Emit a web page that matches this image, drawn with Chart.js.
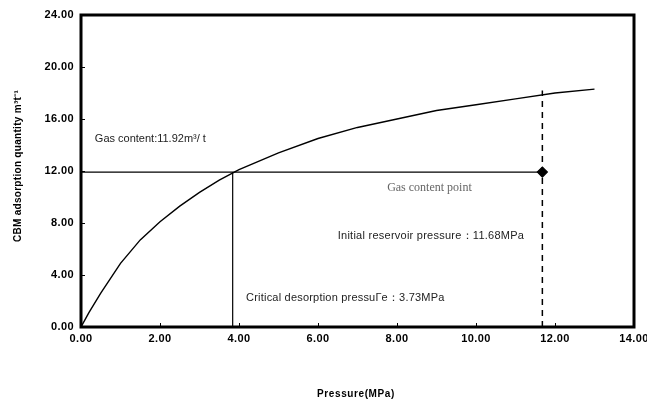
<!DOCTYPE html>
<html>
<head>
<meta charset="utf-8">
<script src="https://cdn.jsdelivr.net/npm/chart.js@4"></script>
<style>
html,body{margin:0;padding:0;background:#fff;}
#wrap{width:647px;height:406px;}
</style>
</head>
<body>
<div id="wrap"><canvas id="c" width="647" height="406"></canvas></div>
<script>
// Adsorption isotherm (Pressure MPa -> CBM adsorption m3/t)
const pressure = [0, 0.2, 0.5, 1.0, 1.25, 1.5, 2.0, 2.5, 3.0, 3.5, 4.0, 5.0, 6.0, 7.0, 8.0, 9.0, 10.0, 11.0, 12.0, 13.0];
const adsorption = [0, 1.1, 2.6, 4.9, 5.8, 6.7, 8.1, 9.3, 10.35, 11.3, 12.1, 13.4, 14.5, 15.35, 16.0, 16.65, 17.1, 17.55, 18.0, 18.3];

const gasContent = 11.92;
const reservoirPressure = 11.68;
const criticalLineX = 3.84;
const dashedTop = 18.2;

const xTicks = [0, 2, 4, 6, 8, 10, 12, 14];
const yTicks = [0, 4, 8, 12, 16, 20, 24];

const gasLineX = [0, reservoirPressure];
const gasLineY = [gasContent, gasContent];
const critLineX = [criticalLineX, criticalLineX];
const critLineY = [0, gasContent];
const resLineX = [reservoirPressure, reservoirPressure];
const resLineY = [0, dashedTop];

const labels = [
  {text: 'Gas content:11.92m\u00b3/ t', x: 0.35, y: 14.5, font: '11px "Liberation Sans", Arial, sans-serif', color: '#222', ls: '0px'},
  {text: 'Gas content point', x: 7.75, y: 10.7, font: '12px "Liberation Serif", "DejaVu Serif", serif', color: '#666', ls: '0px'},
  {text: 'Initial reservoir pressure\uff1a11.68MPa', x: 6.5, y: 7.0, font: '11px "Liberation Sans", Arial, sans-serif', color: '#222', ls: '0.25px'},
  {text: 'Critical desorption pressu\u0413e\uff1a3.73MPa', x: 4.18, y: 2.23, font: '11px "Liberation Sans", Arial, sans-serif', color: '#222', ls: '0.2px'}
];

const pts = (xs, ys) => xs.map((x, i) => ({x: x, y: ys[i]}));

const framePlugin = {
  id: 'frame',
  beforeDraw(chart) { chart.ctx.letterSpacing = '0.4px'; },
  beforeDatasetsDraw(chart) { chart.ctx.letterSpacing = '0px'; },
  afterDraw(chart) {
    const ctx = chart.ctx;
    const a = chart.chartArea;
    const xs = chart.scales.x, ys = chart.scales.y;
    ctx.save();
    ctx.strokeStyle = '#000';
    ctx.lineWidth = 1;
    xTicks.forEach(v => {
      const px = Math.round(xs.getPixelForValue(v)) + 0.5;
      ctx.beginPath(); ctx.moveTo(px, a.bottom); ctx.lineTo(px, a.bottom - 4); ctx.stroke();
    });
    yTicks.forEach(v => {
      const py = Math.round(ys.getPixelForValue(v)) + 0.5;
      ctx.beginPath(); ctx.moveTo(a.left, py); ctx.lineTo(a.left + 4, py); ctx.stroke();
    });
    ctx.lineWidth = 3;
    ctx.strokeRect(a.left, a.top, a.right - a.left, a.bottom - a.top);
    labels.forEach(l => {
      ctx.font = l.font;
      ctx.fillStyle = l.color;
      ctx.letterSpacing = l.ls;
      ctx.textAlign = 'left';
      ctx.textBaseline = 'middle';
      ctx.fillText(l.text, xs.getPixelForValue(l.x), ys.getPixelForValue(l.y));
    });
    ctx.fillStyle = '#000';
    ctx.font = 'bold 10px "Liberation Sans", Arial, sans-serif';
    ctx.textAlign = 'center';
    ctx.letterSpacing = '0.6px';
    ctx.fillText('Pressure(MPa)', 356, 394);
    ctx.letterSpacing = '0.3px';
    ctx.translate(18, 166);
    ctx.rotate(-Math.PI / 2);
    ctx.fillText('CBM adsorption quantity m\u00b3t\u207b\u00b9', 0, 0);
    ctx.restore();
  }
};

new Chart(document.getElementById('c'), {
  type: 'scatter',
  data: {
    datasets: [
      {data: pts(pressure, adsorption), showLine: true, borderColor: '#000', borderWidth: 1.4, pointRadius: 0, tension: 0},
      {data: pts(gasLineX, gasLineY), showLine: true, borderColor: '#000', borderWidth: 1.2, pointRadius: [0, 5], pointStyle: 'rectRot', pointBackgroundColor: '#000', pointBorderColor: '#000'},
      {data: pts(critLineX, critLineY), showLine: true, borderColor: '#000', borderWidth: 1.2, pointRadius: 0},
      {data: pts(resLineX, resLineY), showLine: true, borderColor: '#000', borderWidth: 1.5, borderDash: [6, 5], pointRadius: 0}
    ]
  },
  options: {
    responsive: false,
    animation: false,
    layout: {padding: {left: 0, top: 15, right: 13, bottom: 0}},
    plugins: {legend: {display: false}, tooltip: {enabled: false}},
    scales: {
      x: {
        type: 'linear', min: 0, max: 14,
        afterBuildTicks: s => { s.ticks = xTicks.map(v => ({value: v})); },
        afterFit: s => { s.height = 79; s.paddingLeft = 0; s.paddingRight = 0; },
        grid: {display: false, drawTicks: false},
        border: {display: false},
        ticks: {padding: 5, color: '#000', font: {family: '"Liberation Sans", Arial, sans-serif', size: 11, weight: 'bold'}, callback: v => v.toFixed(2), maxRotation: 0}
      },
      y: {
        type: 'linear', min: 0, max: 24,
        afterBuildTicks: s => { s.ticks = yTicks.map(v => ({value: v})); },
        afterFit: s => { s.width = 81; s.paddingTop = 0; s.paddingBottom = 0; },
        grid: {display: false, drawTicks: false},
        border: {display: false},
        ticks: {padding: 7, color: '#000', font: {family: '"Liberation Sans", Arial, sans-serif', size: 11, weight: 'bold'}, callback: v => v.toFixed(2)}
      }
    }
  },
  plugins: [framePlugin]
});
</script>
</body>
</html>
